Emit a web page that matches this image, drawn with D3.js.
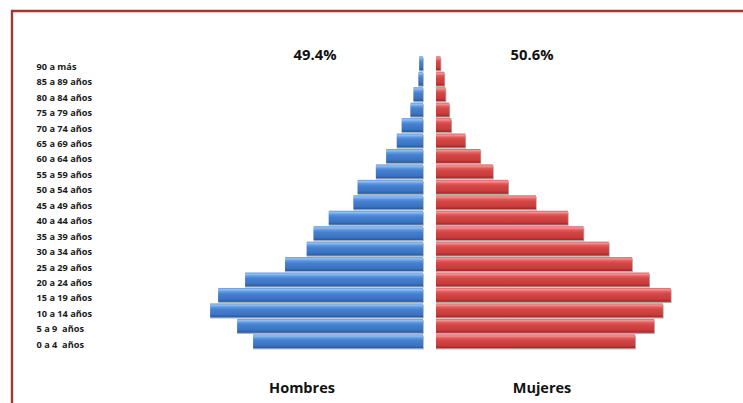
<!DOCTYPE html>
<html><head><meta charset="utf-8">
<script src="https://cdn.jsdelivr.net/npm/d3@7"></script>
<style>html,body{margin:0;padding:0;background:#fff;}svg{display:block;}</style>
</head><body>
<script>
const ageGroups = ["90 a más","85 a 89 años","80 a 84 años","75 a 79 años","70 a 74 años","65 a 69 años","60 a 64 años","55 a 59 años","50 a 54 años","45 a 49 años","40 a 44 años","35 a 39 años","30 a 34 años","25 a 29 años","20 a 24 años","15 a 19 años","10 a 14 años","5 a 9  años","0 a 4  años"];
const hombres = [0.10,0.12,0.25,0.33,0.56,0.69,0.97,1.24,1.72,1.83,2.48,2.88,3.06,3.63,4.68,5.39,5.60,4.89,4.47];
const mujeres = [0.12,0.22,0.25,0.35,0.40,0.77,1.17,1.50,1.90,2.63,3.47,3.88,4.55,5.16,5.61,6.18,5.97,5.74,5.24];
const totals = ["49.4%","50.6%"];
const sexLabels = ["Hombres","Mujeres"];

const W = 743, H = 403;
const svg = d3.select("body").append("svg").attr("width", W).attr("height", H);
const defs = svg.append("defs");
function grad(id, stops){
  const g = defs.append("linearGradient").attr("id", id).attr("x1",0).attr("y1",0).attr("x2",0).attr("y2",1);
  stops.forEach(s => g.append("stop").attr("offset", s[0]).attr("stop-color", s[1]));
}
grad("gBlue", [[0,"#5d97e0"],[0.12,"#8ec0f6"],[0.28,"#5b95e0"],[0.45,"#4580cf"],[0.8,"#3b73c2"],[1,"#2b5893"]]);
grad("gRed", [[0,"#e06060"],[0.12,"#f89090"],[0.28,"#e25858"],[0.45,"#d44646"],[0.8,"#c83c3c"],[1,"#982a2a"]]);

// frame
svg.append("path").attr("d", `M12,${H} V11 H${W}`).attr("fill","none").attr("stroke","#a33535").attr("stroke-width",2.4);

const y = d3.scaleBand().domain(ageGroups).range([56, 348.5]).paddingInner(0.1).paddingOuter(0.02);
const xM = d3.scaleLinear().domain([0, 6.5]).range([423, 423 - 247]);
const xF = d3.scaleLinear().domain([0, 6.5]).range([436, 436 + 247]);

const gM = svg.append("g"), gF = svg.append("g");
// shadows
gM.selectAll("rect.sh").data(hombres).join("rect").attr("class","sh")
  .attr("x",(d)=>xM(d)).attr("y",(d,i)=>y(ageGroups[i])+1.2)
  .attr("width",d=>xM(0)-xM(d)+0.8).attr("height",y.bandwidth()).attr("fill","#8d96a3").attr("opacity",0.75);
gF.selectAll("rect.sh").data(mujeres).join("rect").attr("class","sh")
  .attr("x",xF(0)).attr("y",(d,i)=>y(ageGroups[i])+1.2)
  .attr("width",d=>xF(d)-xF(0)+0.8).attr("height",y.bandwidth()).attr("fill","#9a8f8f").attr("opacity",0.75);
gM.selectAll("rect.b").data(hombres).join("rect").attr("class","b")
  .attr("x",d=>xM(d)).attr("y",(d,i)=>y(ageGroups[i]))
  .attr("width",d=>xM(0)-xM(d)).attr("height",y.bandwidth()).attr("fill","url(#gBlue)");
gF.selectAll("rect.b").data(mujeres).join("rect").attr("class","b")
  .attr("x",xF(0)).attr("y",(d,i)=>y(ageGroups[i]))
  .attr("width",d=>xF(d)-xF(0)).attr("height",y.bandwidth()).attr("fill","url(#gRed)");

// category labels
svg.append("g").selectAll("text").data(ageGroups).join("text")
  .attr("x",36.5).attr("y",d=>y(d)+y.bandwidth()/2+6.5)
  .attr("font-family","'Open Sans', sans-serif").attr("font-weight","bold").attr("font-size","9.2px")
  .attr("fill","#1a1a1a").style("white-space","pre").attr("xml:space","preserve").text(d=>d);

// totals
svg.append("text").attr("x",315).attr("y",60).attr("text-anchor","middle")
  .attr("font-family","'Open Sans', sans-serif").attr("font-weight","bold").attr("font-size","14.8px").attr("fill","#111").text(totals[0]);
svg.append("text").attr("x",532).attr("y",60).attr("text-anchor","middle")
  .attr("font-family","'Open Sans', sans-serif").attr("font-weight","bold").attr("font-size","14.8px").attr("fill","#111").text(totals[1]);
// sex labels
svg.append("text").attr("x",302).attr("y",393).attr("text-anchor","middle")
  .attr("font-family","'Open Sans', sans-serif").attr("font-weight","bold").attr("font-size","14.5px").attr("fill","#111").text(sexLabels[0]);
svg.append("text").attr("x",542).attr("y",393).attr("text-anchor","middle")
  .attr("font-family","'Open Sans', sans-serif").attr("font-weight","bold").attr("font-size","14.5px").attr("fill","#111").text(sexLabels[1]);
</script>
</body></html>
